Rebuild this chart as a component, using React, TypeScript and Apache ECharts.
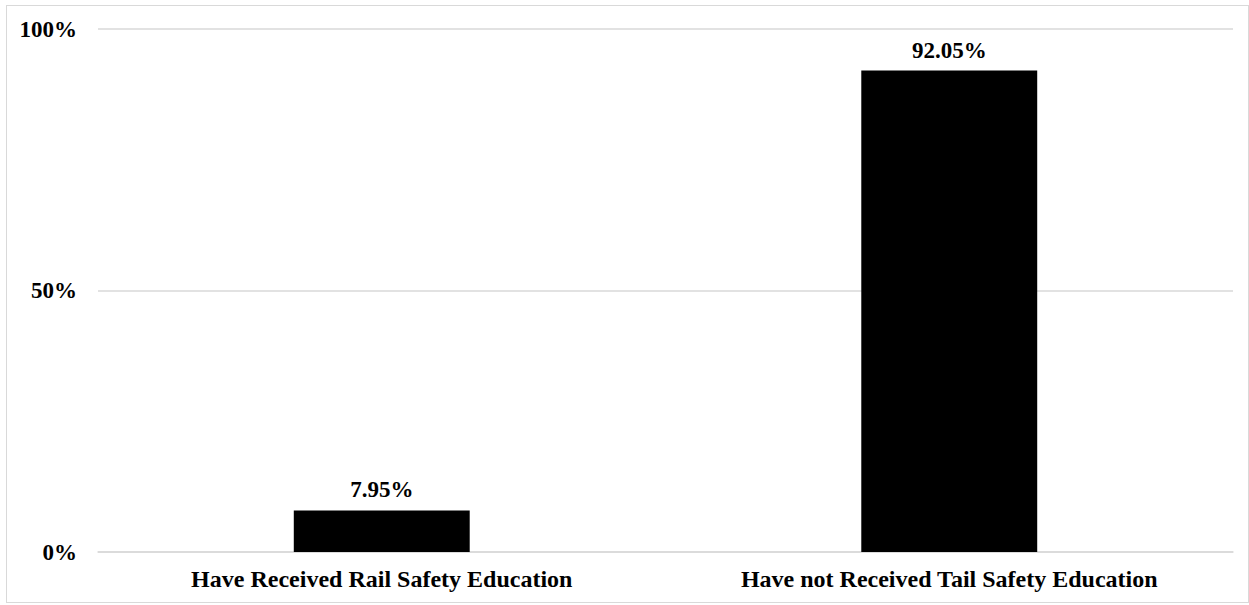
import React, { useEffect, useRef } from "react";
import * as echarts from "echarts";

const categories = [
  "Have Received Rail Safety Education",
  "Have not Received Tail Safety Education",
];
const values = [7.95, 92.05];
const yTicks = [0, 50, 100];

export default function App() {
  const ref = useRef<HTMLDivElement>(null);
  useEffect(() => {
    if (!ref.current) return;
    const chart = echarts.init(ref.current, null, { renderer: "svg" });
    const font = "'Liberation Serif', 'Times New Roman', serif";
    chart.setOption({
      animation: false,
      grid: { left: 97, right: 17, top: 28, bottom: 54, containLabel: false },
      xAxis: {
        type: "category",
        data: categories,
        axisLine: { show: true, lineStyle: { color: "#d9d9d9", width: 1.5 } },
        axisTick: { show: false },
        axisLabel: {
          color: "#000",
          fontFamily: font,
          fontWeight: "bold",
          fontSize: 24,
          margin: 15,
        },
      },
      yAxis: {
        type: "value",
        min: yTicks[0],
        max: yTicks[yTicks.length - 1],
        interval: 50,
        axisLine: { show: false },
        axisTick: { show: false },
        splitLine: { lineStyle: { color: "#d9d9d9", width: 1.5 } },
        axisLabel: {
          color: "#000",
          fontFamily: font,
          fontWeight: "bold",
          fontSize: 23,
          margin: 21,
          formatter: (v: number) => `${v}%`,
        },
      },
      series: [
        {
          type: "bar",
          data: values,
          barWidth: "31%",
          itemStyle: { color: "#000" },
          label: {
            show: true,
            position: "top",
            distance: 9,
            color: "#000",
            fontFamily: font,
            fontWeight: "bold",
            fontSize: 23,
            formatter: (p: any) => `${p.value.toFixed(2)}%`,
          },
        },
      ],
    });
    return () => chart.dispose();
  }, []);
  return (
    <div
      style={{
        position: "absolute",
        left: 6,
        top: 5,
        width: 1243,
        height: 598,
        border: "1.5px solid #d9d9d9",
        boxSizing: "border-box",
        background: "#fff",
      }}
    >
      <div
        ref={ref}
        style={{ position: "absolute", left: -6, top: -5, width: 1249, height: 605 }}
      />
    </div>
  );
}
